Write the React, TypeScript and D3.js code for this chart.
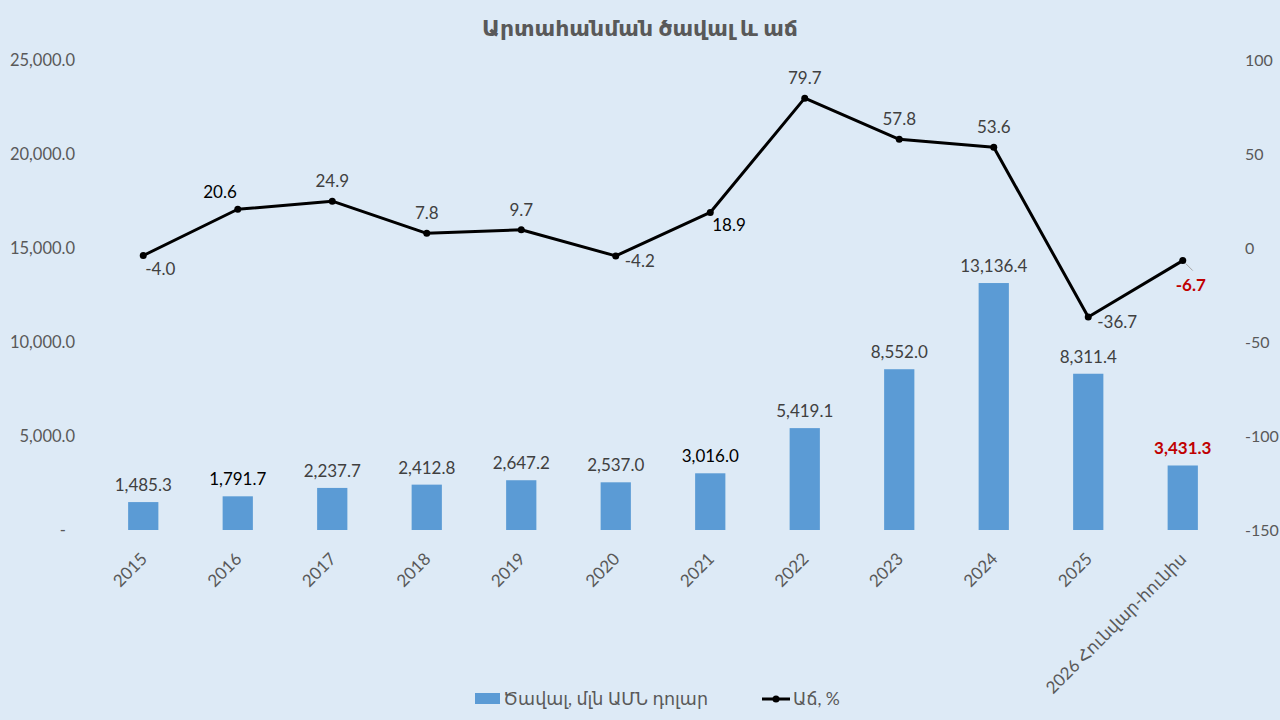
import React from "react";
import * as d3 from "d3";

// chart data
const categories = [
  "2015", "2016", "2017", "2018", "2019", "2020",
  "2021", "2022", "2023", "2024", "2025", "2026 Հունվար-հունիս",
];
const volume = [
  1485.3, 1791.7, 2237.7, 2412.8, 2647.2, 2537.0,
  3016.0, 5419.1, 8552.0, 13136.4, 8311.4, 3431.3,
];
const growth = [-4.0, 20.6, 24.9, 7.8, 9.7, -4.2, 18.9, 79.7, 57.8, 53.6, -36.7, -6.7];
const leftTicks = [0, 5000, 10000, 15000, 20000, 25000];
const rightTicks = [-150, -100, -50, 0, 50, 100];

const title = "Արտահանման ծավալ և աճ";
const volumeName = "Ծավալ, մլն ԱՄՆ դոլար";
const growthName = "Աճ, %";

// where each growth label sits relative to its point
const growthLabelPlace = [
  "belowRight", "aboveLeft", "above", "above", "above", "right",
  "belowRight", "above", "above", "above", "right", "leader",
];

const W = 1280;
const H = 720;
const FONT = "Lato, 'DejaVu Sans', sans-serif";
const BG = "#DDEAF6";
const BAR = "#5B9BD5";
const AXIS_TEXT = "#595959";
const LABEL = "#404040";
const RED = "#C00000";

// hyphen minus like the original, not the unicode one
const fmt = (v: number) => d3.format(",.1f")(v).replace("−", "-");

const App = () => {
  const x = d3
    .scaleBand<string>()
    .domain(categories)
    .range([96, 1230])
    .paddingInner(0.68)
    .paddingOuter(0.34);
  const yL = d3.scaleLinear().domain([0, 25000]).range([530, 60]);
  const yR = d3.scaleLinear().domain([-150, 100]).range([530, 60]);
  const cx = (c: string) => (x(c) as number) + x.bandwidth() / 2;

  const line = d3
    .line<number>()
    .x((_, i) => cx(categories[i]))
    .y((d) => yR(d));

  const last = categories.length - 1;

  return (
    <svg
      width={W}
      height={H}
      style={{ position: "absolute", left: 0, top: 0, background: BG }}
      fontFamily={FONT}
    >
      <rect width={W} height={H} fill={BG} />

      {/* title */}
      <text
        x={640}
        y={36}
        textAnchor="middle"
        fontSize={22}
        fontWeight="bold"
        fill={AXIS_TEXT}
      >
        {title}
      </text>

      {/* left axis */}
      {leftTicks.map((t) => (
        <text
          key={"l" + t}
          x={t === 0 ? 66 : 75}
          y={yL(t)}
          dy="0.35em"
          textAnchor="end"
          fontSize={16.5}
          fill={AXIS_TEXT}
        >
          {t === 0 ? "-" : fmt(t)}
        </text>
      ))}

      {/* right axis */}
      {rightTicks.map((t) => (
        <text
          key={"r" + t}
          x={1245}
          y={yR(t)}
          dy="0.35em"
          textAnchor="start"
          fontSize={16}
          fill={AXIS_TEXT}
        >
          {String(t)}
        </text>
      ))}

      {/* bars */}
      {volume.map((v, i) => (
        <rect
          key={"b" + i}
          x={x(categories[i])}
          y={yL(v)}
          width={x.bandwidth()}
          height={yL(0) - yL(v)}
          fill={BAR}
        />
      ))}

      {/* bar labels */}
      {volume.map((v, i) => (
        <text
          key={"bl" + i}
          x={cx(categories[i])}
          y={yL(v) - 11}
          textAnchor="middle"
          fontSize={17}
          fontWeight={i === last ? "bold" : "normal"}
          fill={i === last ? RED : i === 1 || i === 6 ? "#000" : LABEL}
        >
          {fmt(v)}
        </text>
      ))}

      {/* x axis labels */}
      {categories.map((c) => (
        <text
          key={"x" + c}
          transform={`translate(${cx(c) + 5},${560}) rotate(-45)`}
          textAnchor="end"
          fontSize={17}
          fill={AXIS_TEXT}
        >
          {c}
        </text>
      ))}

      {/* growth line */}
      <path d={line(growth) || ""} fill="none" stroke="#000" strokeWidth={3} strokeLinejoin="round" />
      {growth.map((g, i) => (
        <circle key={"p" + i} cx={cx(categories[i])} cy={yR(g)} r={3.5} fill="#000" />
      ))}

      {/* leader for the last point */}
      <line
        x1={cx(categories[last]) + 3}
        y1={yR(growth[last]) + 3}
        x2={cx(categories[last]) + 10}
        y2={yR(growth[last]) + 10}
        stroke="#A6A6A6"
        strokeWidth={1}
      />

      {/* growth labels */}
      {growth.map((g, i) => {
        const px = cx(categories[i]);
        const py = yR(g);
        const place = growthLabelPlace[i];
        let tx = px;
        let ty = py - 14;
        let anchor = "middle";
        if (place === "belowRight") {
          tx = px + 2;
          ty = py + 19;
          anchor = "start";
        } else if (place === "aboveLeft") {
          tx = px - 1;
          ty = py - 11;
          anchor = "end";
        } else if (place === "right") {
          tx = px + 9;
          ty = py + 11;
          anchor = "start";
        } else if (place === "leader") {
          tx = px - 7;
          ty = py + 30;
          anchor = "start";
        }
        const special = i === last;
        return (
          <text
            key={"gl" + i}
            x={tx}
            y={ty}
            textAnchor={anchor}
            fontSize={17}
            fontWeight={special ? "bold" : "normal"}
            fill={special ? RED : i === 1 || i === 6 ? "#000" : LABEL}
          >
            {fmt(g)}
          </text>
        );
      })}

      {/* legend */}
      <rect x={475} y={693} width={25} height={11} fill={BAR} />
      <text x={503} y={705} fontSize={17.5} fill={AXIS_TEXT}>
        {volumeName}
      </text>
      <line x1={762} x2={790} y1={699} y2={699} stroke="#000" strokeWidth={3} />
      <circle cx={776} cy={699} r={3.5} fill="#000" />
      <text x={793} y={705} fontSize={17.5} fill={AXIS_TEXT}>
        {growthName}
      </text>
    </svg>
  );
};

export default App;
